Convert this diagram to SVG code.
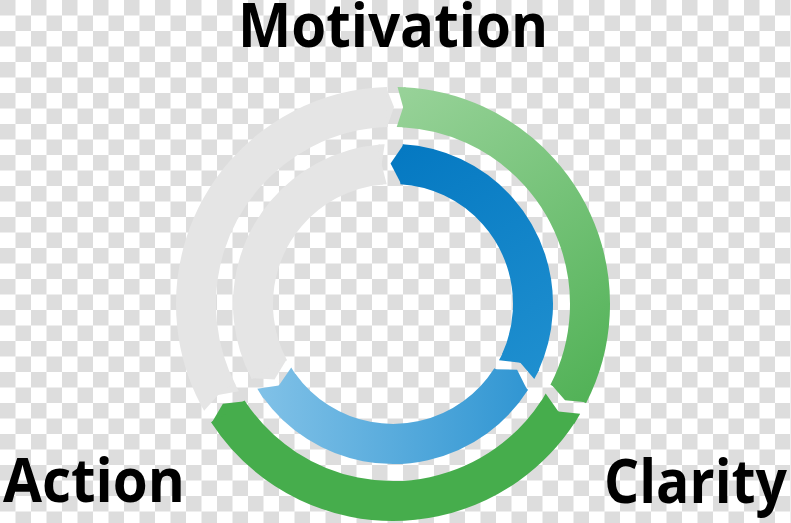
<svg xmlns="http://www.w3.org/2000/svg" width="791" height="523" viewBox="0 0 791 523">
  <defs>
    <pattern id="checker" width="31" height="31" patternUnits="userSpaceOnUse">
      <rect width="31" height="31" fill="#ffffff"/>
      <rect width="15.5" height="15.5" fill="#dddddd"/>
      <rect x="15.5" y="15.5" width="15.5" height="15.5" fill="#dddddd"/>
    </pattern>
    <linearGradient id="gUpperGreen" gradientUnits="userSpaceOnUse" x1="393" y1="100" x2="600" y2="390">
      <stop offset="0" stop-color="#97d298"/>
      <stop offset="1" stop-color="#52b257"/>
    </linearGradient>
    <linearGradient id="gUpperBlue" gradientUnits="userSpaceOnUse" x1="400" y1="150" x2="530" y2="380">
      <stop offset="0" stop-color="#0579c2"/>
      <stop offset="1" stop-color="#1f8fcf"/>
    </linearGradient>
    <linearGradient id="gLowerBlue" gradientUnits="userSpaceOnUse" x1="262" y1="390" x2="532" y2="390">
      <stop offset="0" stop-color="#80c1e7"/>
      <stop offset="1" stop-color="#2f95d2"/>
    </linearGradient>
    <mask id="mUpperGreen" maskUnits="userSpaceOnUse" x="0" y="0" width="791" height="523">
      <circle fill="none" stroke="#ffffff" stroke-width="40" cx="393" cy="304" r="197" pathLength="360" stroke-dasharray="114.255 400" transform="rotate(-87.055 393 304)"/>
      <polygon fill="#ffffff" points="393,87 399,107 393,127 401.1,127 401.1,87" transform="rotate(1.2 393 304)"/>
      <polygon fill="#ffffff" points="392,87 400,107 392,127" transform="rotate(117.2 393 304)"/>
    </mask>
    <mask id="mUpperBlue" maskUnits="userSpaceOnUse" x="0" y="0" width="791" height="523">
      <circle fill="none" stroke="#ffffff" stroke-width="40" cx="393" cy="304" r="140" pathLength="360" stroke-dasharray="111.226 400" transform="rotate(-86.5 393 304)"/>
      <polygon fill="#ffffff" points="394,144 382,164 394,184" transform="rotate(3.5 393 304)"/>
      <polygon fill="#ffffff" points="393,144 385,164 393,184 382.36,184 382.36,144" transform="rotate(118 393 304)"/>
    </mask>
    <mask id="mLowerBlue" maskUnits="userSpaceOnUse" x="0" y="0" width="791" height="523">
      <circle fill="none" stroke="#ffffff" stroke-width="40" cx="393" cy="304" r="140" pathLength="360" stroke-dasharray="112.08 400" transform="rotate(32.4 393 304)"/>
      <polygon fill="#ffffff" points="394,144 382,164 394,184" transform="rotate(122.4 393 304)"/>
      <polygon fill="#ffffff" points="393,144 384.4,164 393,184 381.67,184 381.67,144" transform="rotate(238 393 304)"/>
    </mask>
  </defs>
  <style>
    .band { fill: none; stroke-width: 40; }
    .label { font-family: "Open Sans", "Liberation Sans", sans-serif; font-weight: 700; fill: #000000; }
  </style>

  <rect width="791" height="523" fill="url(#checker)"/>

  <g id="outer-gray">
    <circle class="band" stroke="#e5e5e5" cx="393" cy="304" r="197" pathLength="360" stroke-dasharray="115.86 400" transform="rotate(152.54 393 304)"/>
    <polygon fill="#e5e5e5" points="393,87 400,107 393,127 402.2,127 402.2,87" transform="rotate(240.5 393 304)"/>
    <polygon fill="#e5e5e5" points="392,87 399.5,107 392,127" transform="rotate(358.4 393 304)"/>
  </g>

  <g id="outer-green-upper">
    <rect x="0" y="0" width="791" height="523" fill="url(#gUpperGreen)" mask="url(#mUpperGreen)"/>
  </g>

  <g id="outer-green-lower">
    <circle class="band" stroke="#46ad4c" cx="393" cy="304" r="197" pathLength="360" stroke-dasharray="113.98 400" transform="rotate(33.02 393 304)"/>
    <polygon fill="#46ad4c" points="393,87 402,107 393,127 404.4,127 404.4,87" transform="rotate(120.4 393 304)"/>
    <polygon fill="#46ad4c" points="392,87 402,107 392,127" transform="rotate(237 393 304)"/>
  </g>

  <g id="inner-blue-upper">
    <rect x="0" y="0" width="791" height="523" fill="url(#gUpperBlue)" mask="url(#mUpperBlue)"/>
  </g>

  <g id="inner-blue-lower">
    <rect x="0" y="0" width="791" height="523" fill="url(#gLowerBlue)" mask="url(#mLowerBlue)"/>
  </g>

  <g id="inner-gray">
    <circle class="band" stroke="#e5e5e5" cx="393" cy="304" r="140" pathLength="360" stroke-dasharray="113.363 400" transform="rotate(152 393 304)"/>
    <polygon fill="#e5e5e5" points="394,144 382,164 394,184" transform="rotate(242 393 304)"/>
    <polygon fill="#e5e5e5" points="393,144 389,164 393,184 386.93,184 386.93,144" transform="rotate(357 393 304)"/>
  </g>

  <g id="connectors"></g>

  <g id="label-motivation">
    <text class="label" x="238" y="47" font-size="60" textLength="310" lengthAdjust="spacingAndGlyphs">Motivation</text>
  </g>
  <g id="label-action">
    <text class="label" x="3" y="502" font-size="61" textLength="182" lengthAdjust="spacingAndGlyphs">Action</text>
  </g>
  <g id="label-clarity">
    <text class="label" x="604" y="503" font-size="61" textLength="183" lengthAdjust="spacingAndGlyphs">Clarity</text>
  </g>
</svg>
